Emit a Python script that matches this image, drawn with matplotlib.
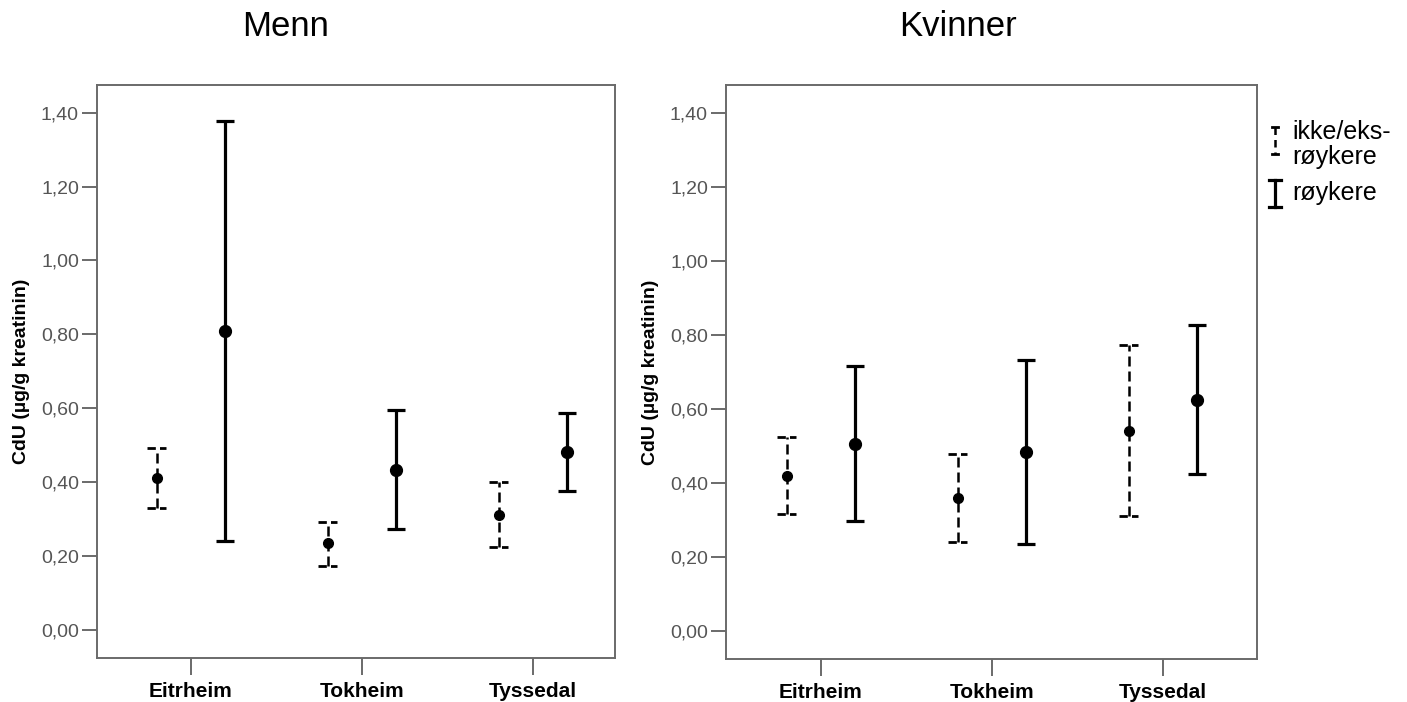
import numpy as np
import matplotlib.pyplot as plt
from matplotlib.lines import Line2D

plt.rcParams['font.family'] = ['Liberation Sans', 'DejaVu Sans']

# Steder (kategorier)
STEDER = ["Eitrheim", "Tokheim", "Tyssedal"]

# Menn: ikke/eks-røykere
menn_ikke_mean = [0.410, 0.235, 0.311]
menn_ikke_low = [0.331, 0.174, 0.224]
menn_ikke_high = [0.492, 0.293, 0.400]
# Menn: røykere
menn_royk_mean = [0.809, 0.434, 0.482]
menn_royk_low = [0.241, 0.273, 0.376]
menn_royk_high = [1.378, 0.594, 0.587]

# Kvinner: ikke/eks-røykere
kv_ikke_mean = [0.419, 0.358, 0.541]
kv_ikke_low = [0.315, 0.239, 0.310]
kv_ikke_high = [0.523, 0.477, 0.772]
# Kvinner: røykere
kv_royk_mean = [0.506, 0.484, 0.624]
kv_royk_low = [0.297, 0.235, 0.424]
kv_royk_high = [0.716, 0.733, 0.826]

YTICKS = [0.0, 0.2, 0.4, 0.6, 0.8, 1.0, 1.2, 1.4]
YTICKLABELS = ["0,00", "0,20", "0,40", "0,60", "0,80", "1,00", "1,20", "1,40"]
YLABEL = "CdU (µg/g kreatinin)"
TITLES = ["Menn", "Kvinner"]
LEGEND_LABELS = ["ikke/eks-", "røykere", "røykere"]

W, H = 1407, 702
OFFSET = 0.2
CAP = 0.055
GREY = "#6a6a6a"
DASH = (0, (4, 2))


def draw_panel(ax, ikke, royk, xlim):
    x = np.arange(len(STEDER))

    # ikke/eks-røykere: stiplet
    m, lo, hi = (np.array(v) for v in ikke)
    xi = x - OFFSET
    eb = ax.errorbar(xi, m, yerr=[m - lo, hi - m], fmt='o', color='black',
                     ms=7, elinewidth=1.8, capsize=0, zorder=3)
    eb[2][0].set_linestyle(DASH)
    ax.hlines(lo, xi - CAP, xi + CAP, colors='black', lw=2.0, linestyles=(0, (3, 1.5)))
    ax.hlines(hi, xi - CAP, xi + CAP, colors='black', lw=2.0, linestyles=(0, (3, 1.5)))

    # røykere: heltrukken
    m, lo, hi = (np.array(v) for v in royk)
    xs = x + OFFSET
    ax.errorbar(xs, m, yerr=[m - lo, hi - m], fmt='o', color='black',
                ms=8.5, elinewidth=2.3, capsize=6.8, capthick=2.3, zorder=3)

    ax.set_xlim(*xlim)
    ax.set_ylim(-0.076, 1.475)
    ax.set_xticks(x)
    ax.set_xticklabels(STEDER, fontsize=15, fontweight='bold')
    ax.set_yticks(YTICKS)
    ax.set_yticklabels(YTICKLABELS, fontsize=14, color='#555555')
    ax.set_ylabel(YLABEL, fontsize=14, fontweight='bold', labelpad=8)
    ax.tick_params(axis='y', length=11, width=1.4, color=GREY, pad=2)
    ax.tick_params(axis='x', length=12, width=1.4, color=GREY, pad=5)
    for s in ax.spines.values():
        s.set_color(GREY)
        s.set_linewidth(1.4)


fig = plt.figure(figsize=(W / 100, H / 100), dpi=100)
ax1 = fig.add_axes([97 / W, 1 - 658 / H, 518 / W, 573 / H])
ax2 = fig.add_axes([726 / W, 1 - 659 / H, 531 / W, 574 / H])

draw_panel(ax1, (menn_ikke_mean, menn_ikke_low, menn_ikke_high),
           (menn_royk_mean, menn_royk_low, menn_royk_high), (-0.548, 2.48))
draw_panel(ax2, (kv_ikke_mean, kv_ikke_low, kv_ikke_high),
           (kv_royk_mean, kv_royk_low, kv_royk_high), (-0.554, 2.55))

fig.text(286 / W, 1 - 27 / H, TITLES[0], fontsize=25, ha='center', va='center')
fig.text(958 / W, 1 - 27 / H, TITLES[1], fontsize=25, ha='center', va='center')


# legende, tegnet for hånd i figurkoordinater (piksler fra øvre venstre hjørne)
def fpx(xp, yp):
    return [v / W for v in xp], [1 - v / H for v in yp]


lx = 1275
for xp, yp, lw, ls in [
    ([lx, lx], [127, 154], 1.8, (0, (3, 2))),
    ([lx - 3, lx + 3], [127, 127], 2.0, '-'),
    ([lx - 3, lx + 3], [154, 154], 2.0, '-'),
    ([lx, lx], [180, 207], 2.3, '-'),
    ([lx - 6, lx + 6], [180, 180], 2.3, '-'),
    ([lx - 6, lx + 6], [207, 207], 2.3, '-'),
]:
    xf, yf = fpx(xp, yp)
    fig.add_artist(Line2D(xf, yf, color='black', lw=lw, linestyle=ls))

for label, yp in zip(LEGEND_LABELS, [132, 157, 193]):
    fig.text(1292 / W, 1 - yp / H, label, fontsize=18, ha='left', va='center')

fig.savefig("out.png", dpi=100)
